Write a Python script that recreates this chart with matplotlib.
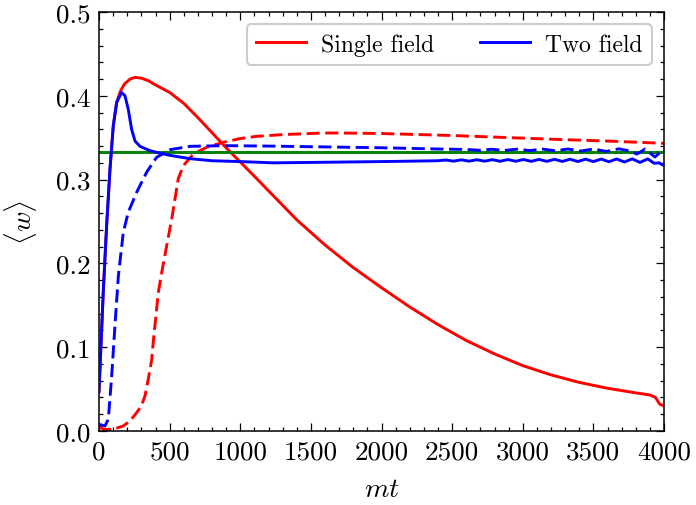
import matplotlib
matplotlib.use('Agg')
import matplotlib.pyplot as plt
from matplotlib.ticker import MultipleLocator

# ---------------- data ----------------
single_solid_t = [0, 30, 54, 78, 101, 125, 150, 180, 220, 255, 300, 350, 400, 500, 600, 700,
                  800, 900, 1000, 1100, 1250, 1400, 1600, 1800, 2000, 2200, 2400, 2600, 2800,
                  3000, 3200, 3400, 3600, 3800, 3900, 3940, 3970, 4000]
single_solid_w = [0.047, 0.1655, 0.245, 0.313, 0.364, 0.392, 0.405, 0.414, 0.420, 0.422, 0.421,
                  0.418, 0.413, 0.404, 0.391, 0.374, 0.356, 0.338, 0.321, 0.304, 0.278, 0.252,
                  0.222, 0.195, 0.171, 0.148, 0.127, 0.108, 0.092, 0.078, 0.067, 0.058, 0.051,
                  0.0455, 0.043, 0.040, 0.032, 0.030]

single_dash_t = [0, 30, 101, 172, 220, 267, 300, 326, 349, 373, 384, 420, 444, 479, 515, 538,
                 561, 597, 668, 762, 880, 1000, 1116, 1300, 1588, 1706, 2000, 2485, 2839, 3200,
                 3600, 4000]
single_dash_w = [0.006, 0.002, 0.002, 0.006, 0.012, 0.022, 0.030, 0.042, 0.062, 0.085, 0.106,
                 0.1655, 0.189, 0.221, 0.253, 0.277, 0.301, 0.3166, 0.3305, 0.3385, 0.3445,
                 0.349, 0.3516, 0.3537, 0.3556, 0.3556, 0.3550, 0.3527, 0.3505, 0.3482, 0.3460,
                 0.3433]

two_solid_t = [0, 30, 54, 78, 101, 125, 160, 184, 207, 231, 255, 290, 361, 408, 500, 644, 800,
               1000, 1234, 1500, 2000, 2400, 2455, 2510, 2565, 2620, 2675, 2730, 2785, 2840,
               2895, 2950, 3005, 3060, 3115, 3170, 3225, 3280, 3335, 3390, 3445, 3500, 3555,
               3610, 3665, 3720, 3775, 3830, 3885, 3930, 3965, 4000]
two_solid_w = [0.047, 0.1655, 0.245, 0.313, 0.364, 0.392, 0.404, 0.400, 0.384, 0.360, 0.346,
               0.3397, 0.3345, 0.3325, 0.329, 0.325, 0.3225, 0.3215, 0.3200, 0.3205, 0.3215,
               0.3225, 0.3234, 0.3220, 0.3236, 0.3220, 0.3237, 0.3220, 0.3238, 0.3219, 0.3239,
               0.3219, 0.3240, 0.3218, 0.3241, 0.3218, 0.3242, 0.3217, 0.3243, 0.3216, 0.3244,
               0.3215, 0.3245, 0.3213, 0.3246, 0.3210, 0.3247, 0.3205, 0.3247, 0.3195, 0.3200,
               0.3166]

two_dash_t = [0, 42, 66, 90, 113, 137, 172, 207, 267, 338, 408, 503, 644, 880, 1200, 1600, 2000,
              2400, 2600, 2690, 2780, 2870, 2960, 3050, 3140, 3230, 3320, 3410, 3500, 3590, 3680,
              3750, 3809, 3866, 3936, 3993, 4000]
two_dash_w = [0.008, 0.006, 0.014, 0.066, 0.126, 0.185, 0.237, 0.261, 0.285, 0.309, 0.3266,
              0.3357, 0.3397, 0.3405, 0.3400, 0.3390, 0.3380, 0.3365, 0.3360, 0.3350, 0.3362,
              0.3348, 0.3363, 0.3346, 0.3364, 0.3344, 0.3365, 0.3340, 0.3366, 0.3336, 0.3367,
              0.3345, 0.3305, 0.3365, 0.3270, 0.3355, 0.3358]

ref_level = 1 / 3

x_ticks = [0, 500, 1000, 1500, 2000, 2500, 3000, 3500, 4000]
y_ticks = [0.0, 0.1, 0.2, 0.3, 0.4, 0.5]

# ---------------- style ----------------
plt.rcParams['font.family'] = ['cmr10', 'DejaVu Serif']
plt.rcParams['mathtext.fontset'] = 'cm'
plt.rcParams['axes.formatter.use_mathtext'] = True
plt.rcParams['font.size'] = 17

fig = plt.figure(figsize=(6.96, 5.06), dpi=100)
ax = fig.add_axes([99 / 696, 74 / 506, 565 / 696, 419 / 506])

lw = 2.1
dash = (4.5, 1.9)
ax.plot(single_solid_t, single_solid_w, color='red', lw=lw, label='Single field', zorder=2)
ax.plot(single_dash_t, single_dash_w, color='red', lw=lw, ls='--', dashes=dash, zorder=2)
ax.axhline(ref_level, color='green', lw=lw, zorder=2.5)
ax.plot(two_solid_t, two_solid_w, color='blue', lw=lw, label='Two field', zorder=3)
ax.plot(two_dash_t, two_dash_w, color='blue', lw=lw, ls='--', dashes=dash, zorder=3)

ax.set_xlim(0, 4000)
ax.set_ylim(0, 0.5)
ax.set_xticks(x_ticks)
ax.set_yticks(y_ticks)
ax.set_xticklabels([str(v) for v in x_ticks])
ax.set_yticklabels([f'{v:.1f}' for v in y_ticks])
ax.xaxis.set_minor_locator(MultipleLocator(100))
ax.yaxis.set_minor_locator(MultipleLocator(0.02))
ax.tick_params(which='both', direction='in', top=True, right=True, labelsize=19.5)
ax.tick_params(which='major', length=6, width=0.9, pad=6)
ax.tick_params(which='minor', length=3, width=0.9)
for s in ax.spines.values():
    s.set_linewidth(1.1)

ax.set_xlabel(r'$mt$', fontsize=20, labelpad=9)
ax.set_ylabel(r'$\langle w\rangle$', fontsize=20, labelpad=12)

leg = ax.legend(loc='upper right', ncol=2, fontsize=17, handlelength=2.1,
                handletextpad=0.65, columnspacing=1.95, frameon=True, fancybox=True,
                framealpha=1.0, edgecolor='0.8', borderaxespad=0.5)
leg.get_frame().set_linewidth(1.5)

fig.savefig('out.png', dpi=100)
